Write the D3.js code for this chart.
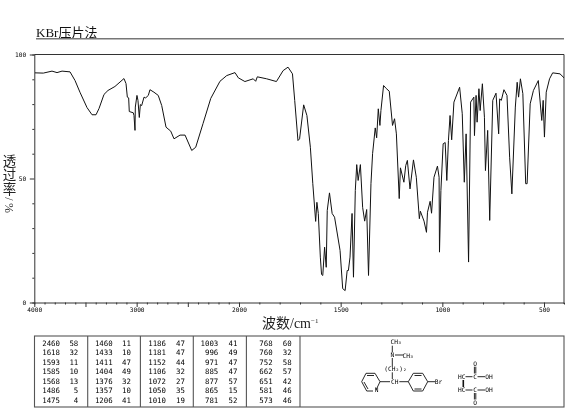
<!DOCTYPE html>
<html><head><meta charset="utf-8">
<script src="https://cdn.jsdelivr.net/npm/d3@7"></script>
<style>html,body{margin:0;padding:0;background:#fff}svg{display:block;filter:blur(0.25px)}</style>
</head><body><div id="c"></div>
<script>
const wavenumber=[3993,3912,3827,3778,3729,3651,3602,3554,3485,3436,3397,3368,3319,3280,3212,3124,3104,3091,3078,3072,3033,3026,3016,3013,2997,2987,2974,2964,2951,2928,2912,2886,2870,2831,2789,2755,2713,2667,2635,2576,2527,2462,2423,2351,2276,2186,2120,2039,2007,1971,1930,1918,1910,1864,1816,1783,1759,1737,1726,1710,1702,1682,1666,1649,1637,1623,1617,1610,1600,1594,1588,1579,1571,1566,1555,1542,1530,1503,1490,1478,1468,1462,1454,1444,1437,1428,1421,1414,1403,1392,1382,1372,1363,1351,1343,1330,1323,1315,1307,1302,1289,1276,1261,1245,1235,1226,1212,1206,1189,1180,1172,1159,1142,1128,1113,1108,1090,1078,1073,1060,1053,1041,1024,1016,1014,1007,996,986,978,970,962,954,943,915,902,892,883,871,861,845,842,834,829,820,814,803,793,788,777,767,752,736,723,718,710,697,682,669,658,641,632,625,616,604,590,583,568,552,528,511,504,498,490,475,461,428,410];
const transmittance=[92.6,92.5,93.3,92.7,93.3,93.0,89.5,84.8,78.6,75.7,75.7,78.2,83.9,85.5,87.1,90.3,88.3,82.8,82.5,77.0,76.5,75.4,69.4,78.8,83.5,81.5,74.6,79.8,79.4,82.8,82.5,83.5,85.8,84.8,83.5,79.4,70.7,69.1,66.0,67.5,67.5,61.3,62.6,72.2,82.3,89.2,91.5,92.7,90.6,89.1,90.2,89.2,91.0,90.2,89.1,93.5,94.9,92.2,81.5,65.3,66.0,79.7,75.4,62.6,47.9,32.7,40.4,35.9,18.3,11.3,10.9,22.3,14.2,37.1,44.2,35.9,34.4,21.0,5.6,4.8,12.9,12.9,18.3,35.9,10.2,45.2,55.6,49.2,55.6,38.4,32.8,37.5,10.9,47.9,60.0,70.4,66.4,78.1,71.4,77.4,87.5,86.3,85.2,71.4,74.1,68.0,41.9,54.3,48.5,55.2,57.3,45.8,57.5,50.5,33.8,36.8,32.8,28.3,36.4,40.8,36.0,50.5,55.0,50.5,20.3,45.2,64.0,64.5,49.2,65.3,75.4,65.6,80.8,86.8,76.1,48.5,68.0,16.3,80.8,82.8,67.3,83.5,72.7,86.2,77.4,88.2,74.7,53.2,69.4,33.1,81.5,84.4,68.0,82.1,81.5,85.8,83.5,58.6,43.8,78.8,88.8,82.8,90.2,84.2,47.9,47.9,80.1,85.5,89.5,73.4,81.5,66.7,84.8,90.2,92.6,92.2,90.6];
const xTickValues=d3.range(4000,400,-100);
const xLabelled=[4000,3000,2000,1500,1000,500];
const xLong=[4000,3500,3000,2500,2000,1500,1000,500];
const yTickValues=d3.range(0,101,10);
const yLabelled=[0,50,100];
const peakWave=[[2460,1618,1593,1585,1568,1486,1475],[1460,1433,1411,1404,1376,1357,1206],[1186,1181,1152,1106,1072,1050,1010],[1003,996,971,885,877,865,781],[768,760,752,662,651,581,573]];
const peakT=[[58,32,11,10,13,5,4],[11,10,47,49,32,10,41],[47,47,44,32,27,35,19],[41,49,47,47,57,15,52],[60,32,58,57,42,46,46]];
const titleText="KBr压片法";
const yTitleChars=["透","过","率","/","%"];

const W=570,H=417;
const mono="'DejaVu Sans Mono',monospace";
const cjk="'Liberation Serif','Noto Sans CJK SC',serif";
const ink="#333";
const svg=d3.select("#c").append("svg").attr("width",W).attr("height",H);
const x=d3.scaleLinear().domain([4000,2000,500,410]).range([34.3,239,544,564]);
const y=d3.scaleLinear().domain([0,100]).range([302.5,54.5]);

// title
svg.append("text").attr("x",36).attr("y",36.5).attr("font-family",cjk).attr("font-size",13).attr("fill","#111").text(titleText);
svg.append("line").attr("x1",36).attr("x2",564).attr("y1",38.8).attr("y2",38.8).attr("stroke","#777").attr("stroke-width",1.6);

// axes
const gx=svg.append("g").attr("transform",`translate(0,${y(0)})`)
  .call(d3.axisBottom(x).tickValues(xTickValues).tickSizeOuter(0).tickSize(2).tickPadding(4)
    .tickFormat(d=>xLabelled.includes(d)?d:""));
gx.selectAll(".tick line").attr("y2",d=>xLong.includes(d)?4.5:2);
gx.selectAll("text").attr("y",5).attr("dy","0.71em").attr("font-family",mono).attr("font-size",6.2).attr("fill","#000");
const gy=svg.append("g").attr("transform",`translate(${x(4000)},0)`)
  .call(d3.axisLeft(y).tickValues(yTickValues).tickSizeOuter(0).tickSize(2)
    .tickFormat(d=>yLabelled.includes(d)?d:""));
gy.selectAll(".tick line").attr("x2",d=>yLabelled.includes(d)?-4.5:-2);
gy.selectAll("text").attr("x",-8).attr("font-family",mono).attr("font-size",6.2).attr("fill","#000");
svg.selectAll(".domain,.tick line").attr("stroke",ink);
// top and right frame
svg.append("path").attr("fill","none").attr("stroke",ink)
  .attr("d",d3.line()([[x(4000),y(100)],[x(410),y(100)],[x(410),y(0)+1.5]]));

// spectrum
svg.append("path").datum(wavenumber.map((w,i)=>[w,transmittance[i]]))
  .attr("fill","none").attr("stroke","#111").attr("stroke-width",1).attr("stroke-linejoin","round")
  .attr("d",d3.line().x(d=>x(d[0])).y(d=>y(d[1])));

// axis titles
const xl=svg.append("text").attr("x",262).attr("y",328).attr("font-family",cjk).attr("font-size",14).attr("fill","#222");
xl.append("tspan").text("波数/cm");
xl.append("tspan").attr("dy",-5).attr("font-size",7).text("−1");
const yTitlePos=[161,175,189,199,208];
yTitleChars.forEach((ch,i)=>{
  const t=svg.append("text").attr("font-family",cjk).attr("fill","#222").attr("text-anchor","middle").attr("dy","0.36em").text(ch);
  if(i<3) t.attr("x",9.5).attr("y",yTitlePos[i]).attr("font-size",13.5);
  else t.attr("transform",`translate(9.5,${yTitlePos[i]}) rotate(90)`).attr("font-size",12);
});

// peak table
const box={l:34.5,t:336,r:564,b:407};
svg.append("rect").attr("x",box.l).attr("y",box.t).attr("width",box.r-box.l).attr("height",box.b-box.t)
  .attr("fill","none").attr("stroke","#555").attr("stroke-width",1.1);
const seps=[87.7,140.4,193.3,246.4,300];
seps.forEach(s=>svg.append("line").attr("x1",s).attr("x2",s).attr("y1",box.t).attr("y2",box.b).attr("stroke","#555").attr("stroke-width",1.1));
const waveRight=[60,112.7,166,218.3,272.7], tRight=[78.3,131,185,237.5,291.7];
peakWave.forEach((col,c)=>col.forEach((w,r)=>{
  const yy=343.4+r*9.45;
  svg.append("text").attr("x",waveRight[c]).attr("y",yy).attr("dy","0.35em").attr("text-anchor","end").attr("font-family",mono).attr("font-size",7.4).attr("fill","#000").text(w);
  svg.append("text").attr("x",tRight[c]).attr("y",yy).attr("dy","0.35em").attr("text-anchor","end").attr("font-family",mono).attr("font-size",7.4).attr("fill","#000").text(peakT[c][r]);
}));

// structure drawing
const seg=(pts,w)=>svg.append("path").attr("fill","none").attr("stroke","#111").attr("stroke-width",w||0.9).attr("d",d3.line()(pts));
const lab=(t,px,py)=>svg.append("text").attr("x",px).attr("y",py).attr("dy","0.35em").attr("text-anchor","middle").attr("font-family",mono).attr("font-size",6.2).attr("fill","#000").text(t);
seg([[392.3,345.7],[392.3,352.5]]);seg([[395,355],[403,355]]);seg([[392.3,358],[392.3,366.7]]);seg([[392.3,372.3],[392.3,379]]);
seg([[380,381.7],[390,381.7]]);seg([[399.3,381.7],[408.3,381.7]]);seg([[427.7,381.7],[435,381.7]]);
seg([[361.7,381.7],[366,373.3],[375,373.3],[380,381.7],[376,390]]);seg([[361.7,381.7],[366.7,391],[373,391]]);seg([[367,375.5],[374,375.5]]);seg([[364,382],[368,389]]);
seg([[408.3,381.7],[413.3,373.3],[422.7,373.3],[427.7,381.7],[422.7,391],[413.3,391],[408.3,381.7]]);seg([[414.5,375.5],[421.5,375.5]]);seg([[414.5,389],[421.5,389]]);
lab("CH₃",396,342.3);lab("N",392.3,355.2);lab("CH₃",408,355.7);lab("(CH₂)₂",395.5,369.3);lab("CH",394.8,381.7);lab("N",376.5,390.3);lab("Br",438.5,381.7);
lab("HC",461.7,376.7);lab("C",475,376.7);lab("OH",489,376.7);lab("O",475,364);
lab("HC",461.7,390);lab("C",475,390);lab("OH",489,390);lab("O",475,402.7);
seg([[463.3,380],[463.3,387]],1.6);
seg([[465.5,376.7],[472.5,376.7]]);seg([[477.5,376.7],[485,376.7]]);seg([[465.5,390],[472.5,390]]);seg([[477.5,390],[485,390]]);
seg([[474.4,366.7],[474.4,373.5]]);seg([[475.8,366.7],[475.8,373.5]]);seg([[474.4,393],[474.4,399.5]]);seg([[475.8,393],[475.8,399.5]]);
</script></body></html>
